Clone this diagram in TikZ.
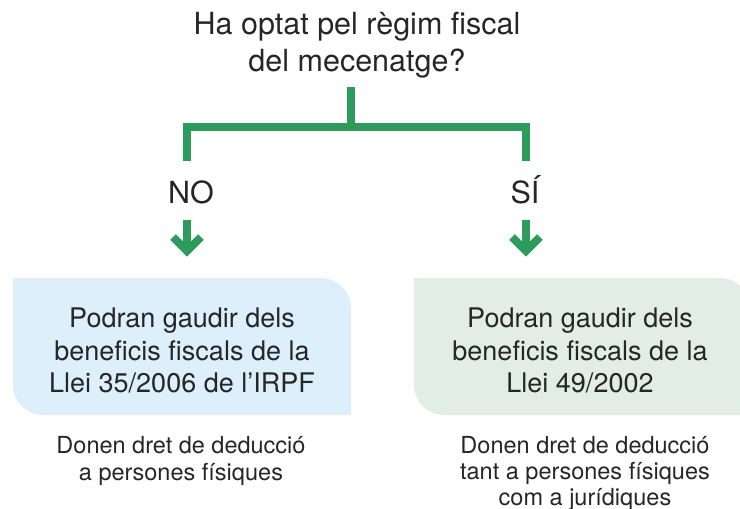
\documentclass[tikz,border=0pt]{standalone}
\usepackage{fontspec}
\setmainfont{TeX Gyre Heros}
\definecolor{gr}{HTML}{2D9B5B}
\definecolor{txt}{HTML}{262626}
\definecolor{bluebox}{HTML}{DCEFFB}
\definecolor{greenbox}{HTML}{E2EEE5}
\begin{document}
\begin{tikzpicture}[x=1pt,y=-1pt,
  gline/.style={draw=gr,line width=8pt,miter limit=10},
  ttl/.style={font=\fontsize{30.5}{36}\selectfont,text=txt,inner sep=0pt,anchor=base},
  big/.style={font=\fontsize{27}{33}\selectfont,text=txt,inner sep=0pt,anchor=base},
  small/.style={font=\fontsize{23.5}{27}\selectfont,text=txt,inner sep=0pt,anchor=base}]
\useasboundingbox (0,0) rectangle (740,509);
\clip (0,0) rectangle (740,509);
% boxes
\fill[bluebox] (13,278) -- (321,278) arc[start angle=-90,end angle=0,radius=30] -- (351,415) -- (43,415) arc[start angle=90,end angle=180,radius=30] -- cycle;
\fill[greenbox] (414,278) -- (720,278) arc[start angle=-90,end angle=0,radius=30] -- (750,415) -- (444,415) arc[start angle=90,end angle=180,radius=30] -- cycle;
% title
\node[ttl] (q1) at (357,34) {Ha optat pel règim fiscal};
\node[ttl] (q2) at (357,71) {del mecenatge?};
% bracket
\coordinate (top) at (351,87);
\coordinate (mid) at (351,126.5);
\coordinate (lt) at (187,126.5);
\coordinate (rt) at (526,126.5);
\coordinate (lb) at (187,161);
\coordinate (rb) at (526,161);
\draw[gline] (top) -- (mid);
\draw[gline] (lb) -- (lt) -- (rt) -- (rb);
% labels
\node[ttl] (no) at (191,203) {NO};
\node[ttl] (si) at (525,203) {SÍ};
% arrows
\coordinate (a1s) at (187,220);
\coordinate (a1e) at (187,251);
\coordinate (a2s) at (526,220);
\coordinate (a2e) at (526,251);
\draw[gline] (a1s) -- (a1e);
\draw[gline] ([xshift=-14pt,yshift=14pt]a1e) -- (a1e) -- ([xshift=14pt,yshift=14pt]a1e);
\draw[gline] (a2s) -- (a2e);
\draw[gline] ([xshift=-14pt,yshift=14pt]a2e) -- (a2e) -- ([xshift=14pt,yshift=14pt]a2e);
% box texts
\node[big] (l1) at (182,327) {Podran gaudir dels};
\node[big] (l2) at (182,360) {beneficis fiscals de la};
\node[big] (l3) at (182,392) {Llei 35/2006 de l’IRPF};
\node[big] (r1) at (580,327) {Podran gaudir dels};
\node[big] (r2) at (580,360) {beneficis fiscals de la};
\node[big] (r3) at (580,392) {Llei 49/2002};
% bottom notes
\node[small] (n1) at (181,453) {Donen dret de deducció};
\node[small] (n2) at (181,480) {a persones físiques};
\node[small] (m1) at (585,453) {Donen dret de deducció};
\node[small] (m2) at (585,479.5) {tant a persones físiques};
\node[small] (m3) at (585,505.5) {com a jurídiques};
\end{tikzpicture}
\end{document}
